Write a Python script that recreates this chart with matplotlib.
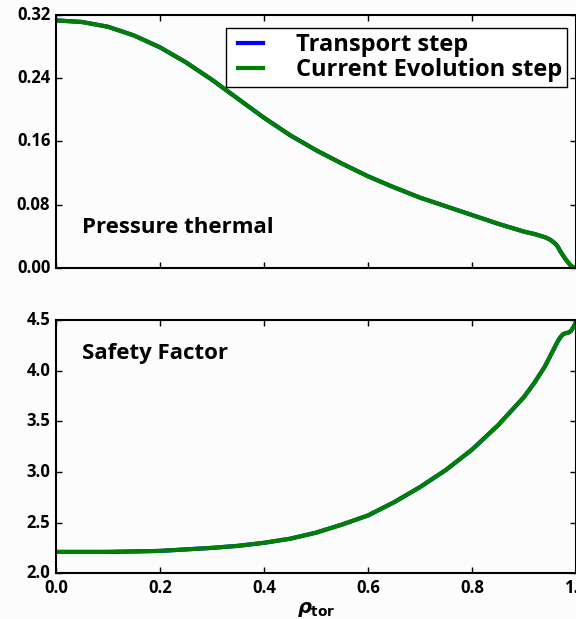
import matplotlib
matplotlib.use('Agg')
import matplotlib.pyplot as plt

# classic look
plt.style.use('classic')
plt.rcParams['font.family'] = ['Open Sans', 'DejaVu Sans']
plt.rcParams['font.weight'] = 'bold'
plt.rcParams['mathtext.fontset'] = 'dejavusans'

# --- data ---
rho = [0.0, 0.05, 0.1, 0.15, 0.2, 0.25, 0.3, 0.35, 0.4, 0.45, 0.5, 0.55,
       0.6, 0.65, 0.7, 0.75, 0.8, 0.85, 0.9, 0.92, 0.94, 0.95, 0.96, 0.965,
       0.97, 0.975, 0.98, 0.985, 0.99, 0.995, 1.0]
pressure = [0.313, 0.311, 0.305, 0.294, 0.279, 0.260, 0.238, 0.214, 0.190,
            0.168, 0.149, 0.132, 0.116, 0.102, 0.089, 0.078, 0.067, 0.056,
            0.046, 0.043, 0.039, 0.036, 0.031, 0.027, 0.021, 0.016, 0.011,
            0.007, 0.003, 0.001, 0.0]
safety = [2.21, 2.21, 2.21, 2.215, 2.22, 2.235, 2.25, 2.27, 2.30, 2.34, 2.40,
          2.48, 2.57, 2.70, 2.85, 3.02, 3.22, 3.46, 3.74, 3.88, 4.04, 4.14,
          4.24, 4.29, 4.33, 4.36, 4.37, 4.375, 4.39, 4.43, 4.48]

p_ticks = [0.00, 0.08, 0.16, 0.24, 0.32]
q_ticks = [2.0, 2.5, 3.0, 3.5, 4.0, 4.5]
x_ticks = [0.0, 0.2, 0.4, 0.6, 0.8, 1.0]

fig = plt.figure(figsize=(5.76, 6.19), dpi=100)
fig.patch.set_facecolor('#fcfcfc')

ax1 = fig.add_axes([0.097, 0.567, 0.903, 0.409])
ax2 = fig.add_axes([0.097, 0.074, 0.903, 0.409])

for ax in (ax1, ax2):
    ax.set_facecolor('#fcfcfc')
    ax.set_xlim(0, 1)
    ax.set_xticks(x_ticks)
    ax.tick_params(labelsize=12, width=1, length=4)
    for s in ax.spines.values():
        s.set_linewidth(1.5)

# pressure
ax1.plot(rho, pressure, color='b', lw=3, label='Transport step')
ax1.plot(rho, pressure, color='g', lw=3, label='Current Evolution step')
ax1.set_ylim(0, 0.32)
ax1.set_yticks(p_ticks)
ax1.set_yticklabels([f"{v:.2f}" for v in p_ticks])
ax1.set_xticklabels([])
ax1.text(0.05, 0.16, 'Pressure thermal', transform=ax1.transAxes,
         fontsize=16, fontweight='bold', va='center')
leg = ax1.legend(loc='upper right', bbox_to_anchor=(0.996, 0.975),
                 prop={'size': 17, 'weight': 'bold'}, handlelength=1.65,
                 borderpad=0.2, labelspacing=0.05, handletextpad=1.1,
                 borderaxespad=0.3)
leg.get_frame().set_linewidth(1)

# safety factor
ax2.plot(rho, safety, color='b', lw=3)
ax2.plot(rho, safety, color='g', lw=3)
ax2.set_ylim(2.0, 4.5)
ax2.set_yticks(q_ticks)
ax2.set_yticklabels([f"{v:.1f}" for v in q_ticks])
ax2.set_xticklabels([f"{v:.1f}" for v in x_ticks])
ax2.text(0.05, 0.866, 'Safety Factor', transform=ax2.transAxes,
         fontsize=16, fontweight='bold', va='center')
ax2.set_xlabel(r'$\rho_{\rm tor}$', fontsize=14, labelpad=2)

fig.savefig('out.png', dpi=100, facecolor=fig.get_facecolor())
